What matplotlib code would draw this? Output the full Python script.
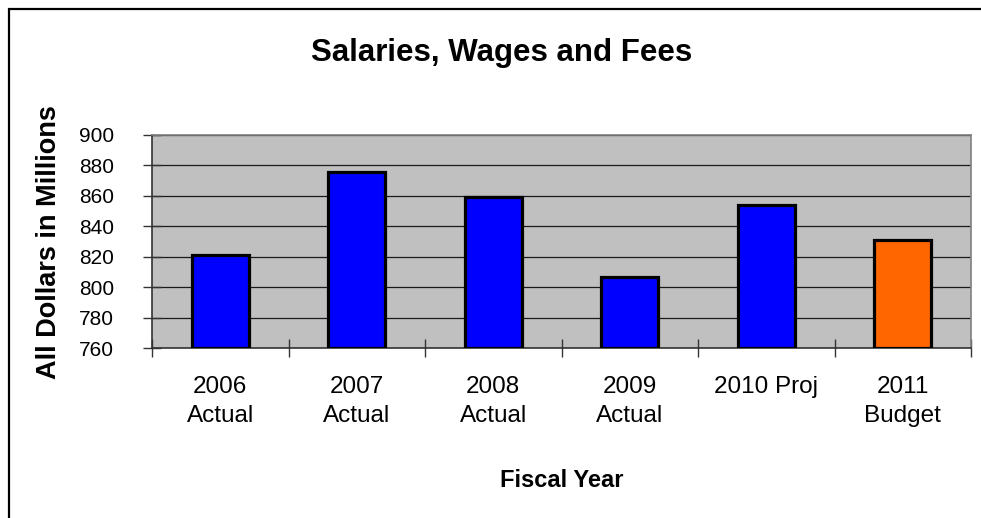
import numpy as np
import matplotlib
matplotlib.use("Agg")
import matplotlib.pyplot as plt
from matplotlib.patches import Rectangle

plt.rcParams['font.family'] = ['Liberation Sans', 'DejaVu Sans']

# Salaries, wages and fees by fiscal year (millions of dollars)
years = ['2006\nActual', '2007\nActual', '2008\nActual', '2009\nActual', '2010 Proj', '2011\nBudget']
values = [821, 876, 859, 807, 854, 831]
bar_colors = ['#0000FF', '#0000FF', '#0000FF', '#0000FF', '#0000FF', '#FF6600']

fig = plt.figure(figsize=(9.81, 5.18), dpi=100)
ax = fig.add_axes([152 / 981, 1 - 348.3 / 518, (971 - 152) / 981, (348.3 - 135) / 518])

x = np.arange(len(years))
ax.set_facecolor('#C0C0C0')
ax.bar(x, [v - 760 for v in values], bottom=760, width=0.42, color=bar_colors,
       edgecolor='black', linewidth=2.3, zorder=3)

ax.set_xlim(-0.5, len(years) - 0.5)
ax.set_ylim(760, 900)
ax.set_yticks(np.arange(760, 901, 20))
ax.yaxis.grid(True, color='#1a1a1a', linewidth=0.9, zorder=1)
ax.set_axisbelow(True)

# category labels at bar centres, tick marks between categories
ax.set_xticks(x)
ax.set_xticklabels(years, fontsize=17.5, linespacing=1.4)
ax.set_xticks(np.arange(-0.5, len(years)), minor=True)
ax.tick_params(axis='x', which='major', length=0, pad=20)
ax.tick_params(axis='x', which='minor', direction='inout', length=13, width=1, color='#333333')
ax.tick_params(axis='y', direction='inout', length=13, width=1, color='#333333',
               labelsize=15, pad=21)

for side in ('top', 'right'):
    ax.spines[side].set_color('#808080')
    ax.spines[side].set_linewidth(1.2)
for side in ('left', 'bottom'):
    ax.spines[side].set_color('#333333')
    ax.spines[side].set_linewidth(1.2)

ax.set_xlabel('Fiscal Year', fontsize=17, fontweight='bold', labelpad=30)
ax.set_ylabel('All Dollars in Millions', fontsize=19.5, fontweight='bold', labelpad=12)

fig.text(502 / 981, 1 - 53 / 518, 'Salaries, Wages and Fees', fontsize=22.5,
         fontweight='bold', ha='center', va='center')

# chart border
fig.patches.append(Rectangle((9 / 981, -0.1), 1.2, 1 - 9 / 518 + 0.1,
                             transform=fig.transFigure, fill=False,
                             edgecolor='black', linewidth=1.6))

fig.savefig('out.png', dpi=100)
